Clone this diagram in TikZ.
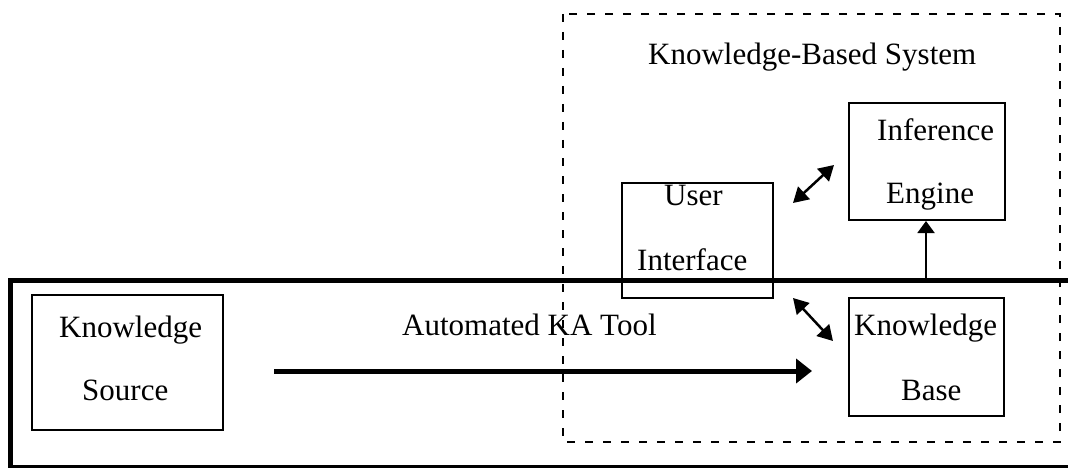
\documentclass[tikz,border=0pt]{standalone}
\usepackage{fontspec}
\setmainfont{Liberation Serif}
\usetikzlibrary{arrows.meta}
\tikzset{
  box/.style={draw, line width=2pt, inner sep=0pt},
  lbl/.style={anchor=base west, inner sep=0pt, font=\fontsize{31}{31}\selectfont},
  sysframe/.style={draw, line width=1.5pt, dash pattern=on 8pt off 10pt},
  heavy/.style={line width=5pt},
  link/.style={line width=2.5pt, {Triangle[length=15pt,width=17pt]}-{Triangle[length=15pt,width=17pt]}},
}
\begin{document}
\begin{tikzpicture}[x=1pt, y=-1pt]
\useasboundingbox (0,0) rectangle (1068,468);

% knowledge-based system (dashed)
\draw[sysframe] (563,14) rectangle (1060,442);
\node[lbl] (kbs) at (648,65) {Knowledge-Based System};

% automated KA tool frame
\draw[heavy] (1070,280) -- (10,280) -- (10,466);
\draw[line width=3pt] (8,466) -- (1070,466);
\coordinate (toolTop) at (926,280);
\node[lbl] (kat) at (402,335) {Automated KA Tool};

% boxes
\node[box, minimum width=191pt, minimum height=135pt] (ks) at (127.5,362.5) {};
\node[box, minimum width=151pt, minimum height=115pt] (ui) at (697.5,240.5) {};
\node[box, minimum width=156pt, minimum height=117pt] (ie) at (927,161.5) {};
\node[box, minimum width=155pt, minimum height=118pt] (kb) at (926.5,357) {};

% box labels
\node[lbl] (ks1) at (59,337) {Knowledge};
\node[lbl] (ks2) at (82,400) {Source};
\node[lbl] (ui1) at (664,205) {User};
\node[lbl] (ui2) at (637,270) {Interface};
\node[lbl] (ie1) at (877,141) {Inference};
\node[lbl] (ie2) at (886,203) {Engine};
\node[lbl] (kb1) at (854,335) {Knowledge};
\node[lbl] (kb2) at (901,400) {Base};

% connectors
\draw[heavy, -{Triangle[length=16pt,width=24pt]}, shorten <=50pt, shorten >=36pt]
  (ks.east |- 0,371) -- (kb.west |- 0,371);
\draw[line width=2pt, -{Triangle[length=12pt,width=17pt]}] (toolTop) -- (ie.south -| toolTop);

\coordinate (uiNE) at (793,203);
\coordinate (ieW) at (834,165);
\coordinate (uiSE) at (793,298);
\coordinate (kbW) at (833,341);
\draw[link] (uiNE) -- (ieW);
\draw[link] (uiSE) -- (kbW);
\end{tikzpicture}
\end{document}
